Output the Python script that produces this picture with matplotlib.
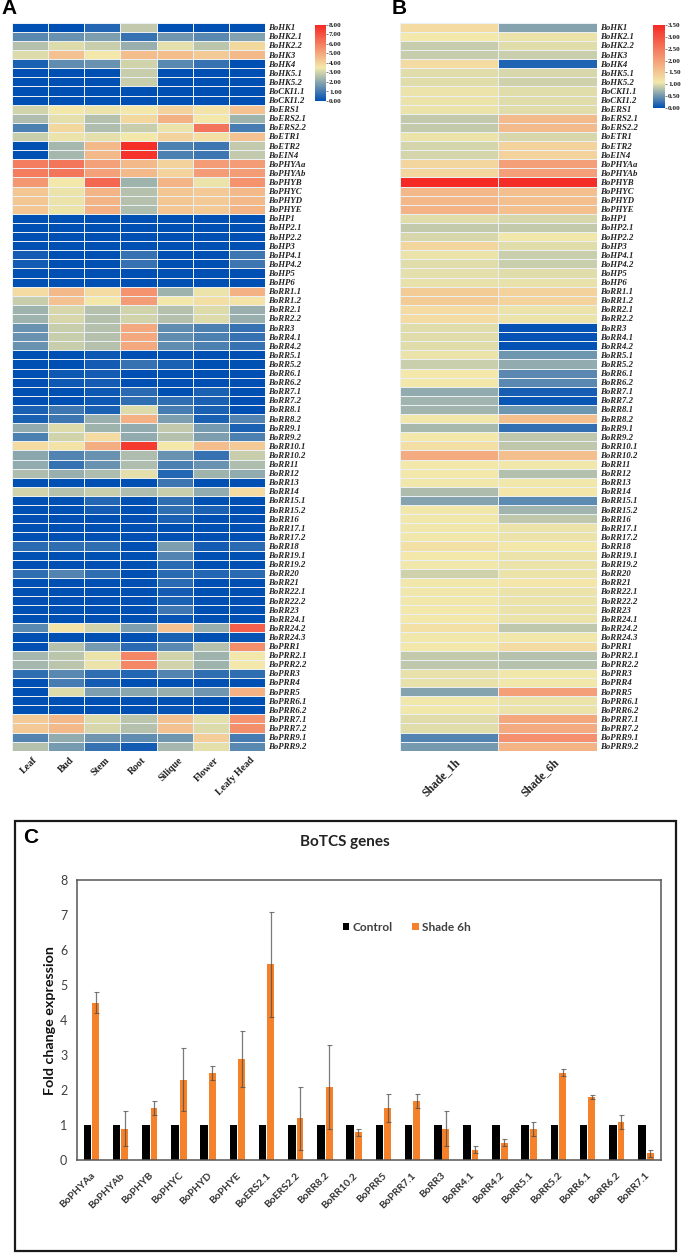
import matplotlib
matplotlib.use("Agg")
import matplotlib.pyplot as plt
import numpy as np
from matplotlib.colors import LinearSegmentedColormap, Normalize
from matplotlib.cm import ScalarMappable
from matplotlib.patches import Rectangle

W, H = 685, 1254

genes = ["HK1","HK2.1","HK2.2","HK3","HK4","HK5.1","HK5.2","CKI1.1","CKI1.2","ERS1",
         "ERS2.1","ERS2.2","ETR1","ETR2","EIN4","PHYAa","PHYAb","PHYB","PHYC","PHYD",
         "PHYE","HP1","HP2.1","HP2.2","HP3","HP4.1","HP4.2","HP5","HP6","RR1.1",
         "RR1.2","RR2.1","RR2.2","RR3","RR4.1","RR4.2","RR5.1","RR5.2","RR6.1","RR6.2",
         "RR7.1","RR7.2","RR8.1","RR8.2","RR9.1","RR9.2","RR10.1","RR10.2","RR11","RR12",
         "RR13","RR14","RR15.1","RR15.2","RR16","RR17.1","RR17.2","RR18","RR19.1","RR19.2",
         "RR20","RR21","RR22.1","RR22.2","RR23","RR24.1","RR24.2","RR24.3","PRR1","PRR2.1",
         "PRR2.2","PRR3","PRR4","PRR5","PRR6.1","PRR6.2","PRR7.1","PRR7.2","PRR9.1","PRR9.2"]

tissues = ["Leaf", "Bud", "Stem", "Root", "Silique", "Flower", "Leafy Head"]
leaf = [0,1.3,2.6,3.2,.4,0,0,0,0,3, 2.5,1.1,2.9,0,0,6,6,5.4,4.3,4.3,
        4.3,0,0,0,0,.3,.3,0,0,3.8, 2.9,2.3,2.3,1.5,1.5,1.5,0,0,0,0,
        0,0,.4,.4,2.1,1.1,3.8,2,2.1,2.5, 0,3,0,0,0,0,0,.6,0,0,
        .7,0,0,0,0,0,1.3,0,0,2.4, 2.4,.7,0,0,0,0,4.2,4.2,1.2,2.6]
bud = [0,1.5,3.2,4.4,1.4,0,0,0,0,3.5, 3.3,3.9,3.4,2.4,2.4,6.2,6.2,3.5,3.4,3.4,
       3.4,0,0,0,0,0,0,0,0,4.6, 4.4,3.1,3.1,2.9,2.9,2.9,0,0,.2,.2,
       0,0,.9,.9,3.2,3,3.6,1.2,.8,2.2, 0,2.6,0,0,0,0,0,.7,0,0,
       1.2,0,0,0,0,0,3.6,0,2.6,2.7, 2.7,1.3,1,3.2,0,0,4.6,4.6,2.1,1.7]
stem = [.5,1.8,2.9,3.5,1.5,0,0,0,0,3.4, 2.6,2.5,3.3,4.6,4.6,5.2,5.2,6.5,4.7,4.7,
        4.8,0,0,0,0,0,0,0,0,3.8, 3.5,2.6,2.6,2.6,2.6,2.6,.2,.3,.3,.3,
        .2,.2,.4,2.2,2.3,3.8,4.9,1.5,1.5,2.5, 0,2.9,.5,.3,0,0,0,.7,0,0,
        .7,0,0,0,0,0,3,0,1.7,3.4, 3.4,.7,.3,1.8,0,0,3.2,3.1,1.6,.8]
root = [2.8,.8,2.2,4.5,3,2.9,2.9,0,0,3.5, 3.9,2.9,3.5,7.9,7.8,4.6,4.6,2.3,2.6,2.6,
        2.5,0,0,0,0,.8,.8,0,0,5.5, 5.3,3,3,5,5,5,0,.8,0,0,
        .6,.7,3.2,4.8,2.1,2.1,7.6,2.5,2.5,3.3, 0,2.5,0,0,0,0,0,0,0,0,
        0,0,0,0,0,0,1.8,0,.6,5.8, 5.8,.5,0,2,0,0,2.7,2.6,1.4,.3]
silique = [0,1.6,3.3,4.5,1.3,0,0,0,0,4, 4.8,3.4,4,1.1,1.1,4,4,4.7,4.3,4.3,
           4.3,0,0,0,0,0,0,0,0,2.3, 3.5,2.6,2.6,1.4,1.4,1.4,0,.4,0,0,
           0,.7,1,1.8,2.8,2.6,3.5,1.5,1.1,.5, .9,2.9,.7,.7,.4,0,0,1.8,1.2,.6,
           .6,.6,.3,.4,.9,.1,4.4,.4,1.3,3, 3,1.2,0,2.2,0,.1,4.4,4.4,1.6,2.4]
flower = [0,1.3,2.7,4.2,.8,0,0,0,0,3.6, 3.5,6.2,3.7,.9,.9,5.3,5.3,3.4,4.2,4.2,
          4.2,0,0,0,0,0,0,0,0,3.4, 3.7,3.2,3.2,1.1,1.1,1.1,0,0,0,0,
          .4,.4,.4,.4,1.7,1.8,4.5,.8,1.5,2.3, 0,2.1,0,.4,0,0,0,.3,0,0,
          .5,0,0,0,0,0,2.2,0,2.6,2.3, 2.3,.7,0,1.6,0,0,3.3,3.2,4.1,3.3]
leafy_head = [0,1.9,3.9,4.6,0,0,0,0,0,4.4, 2.3,1,4.4,2.8,2.8,5.3,5.3,5.5,4.6,4.6,
              4.7,0,0,0,0,.9,.9,0,0,4.8, 3.6,2.2,2.2,.8,.8,.8,0,0,0,0,
              0,0,0,1.2,.4,1.1,4.2,2.9,2.5,2.1, 0,3.8,0,0,0,0,0,.6,0,0,
              .6,0,0,0,0,0,6.7,.1,5.6,3.5, 3.5,.7,0,4.8,0,0,5.5,5.6,1,1.3]

treatments = ["Shade_1h", "Shade_6h"]
shade_1h = [1.25,1.1,.88,.88,1.25,1.0,1.0,1.05,1.05,1.05,
            .87,.87,1.05,.95,.95,1.3,1.3,3.5,1.7,1.7,
            1.75,1.0,.87,.97,1.3,1.05,1.0,1.02,1.03,1.45,
            1.45,1.25,1.25,1.0,1.0,1.0,1.05,.9,1.1,1.1,
            .65,.72,.72,1.08,.75,1.1,1.2,1.85,1.1,1.1,
            1.08,.77,.6,1.08,1.08,1.08,1.08,1.18,1.1,1.08,
            .92,1.08,1.08,1.08,1.1,1.1,1.18,1.08,1.1,.87,
            .85,1.03,1.03,.6,1.07,1.07,1.0,1.0,.38,.52]
shade_6h = [.6,1.05,1.0,.9,.15,.97,.92,1.0,1.0,1.0,
            1.65,1.65,.97,1.35,1.35,2.0,2.0,3.45,1.6,1.6,
            1.6,.97,.87,1.07,1.0,.9,.9,1.0,1.03,1.35,
            1.35,1.05,1.05,.02,.02,.02,.5,.65,.4,.4,
            .1,.05,.5,1.6,.22,.85,.85,1.6,1.07,.8,
            1.07,1.12,.42,.72,.85,1.05,1.05,1.1,1.05,1.05,
            1.05,1.12,1.05,1.05,1.05,1.05,.85,1.08,1.25,.82,
            .82,1.07,1.08,2.0,1.05,1.05,1.9,1.85,2.2,1.75]

qpcr_genes = ["BoPHYAa","BoPHYAb","BoPHYB","BoPHYC","BoPHYD","BoPHYE","BoERS2.1","BoERS2.2",
              "BoRR8.2","BoRR10.2","BoPRR5","BoPRR7.1","BoRR3","BoRR4.1","BoRR4.2","BoRR5.1",
              "BoRR5.2","BoRR6.1","BoRR6.2","BoRR7.1"]
control = [1]*20
shade_qpcr = [4.5,.9,1.5,2.3,2.5,2.9,5.6,1.2,2.1,.8,1.5,1.7,.9,.3,.5,.9,2.5,1.8,1.1,.2]
shade_err = [.3,.5,.2,.9,.2,.8,1.5,.9,1.2,.1,.4,.2,.5,.1,.1,.2,.1,.05,.2,.1]
y_ticks = [0,1,2,3,4,5,6,7,8]

BLUE, YEL, RED = "#0050b4", "#f3e8aa", "#f52a25"
SERIF = "Liberation Serif"
CAL = "Lato"

fig = plt.figure(figsize=(W/100, H/100), dpi=100, facecolor="white")

def axpx(x0, y0, x1, y1):
    return fig.add_axes([x0/W, 1-y1/H, (x1-x0)/W, (y1-y0)/H])

def heat(box, cols, names, vmax, mid, cbox, ticks, lab_dx, name_fs):
    ax = axpx(*box)
    data = np.array(cols, dtype=float).T
    cmap = LinearSegmentedColormap.from_list("c", [(0, BLUE), (mid/vmax, YEL), (1, RED)])
    norm = Normalize(0, vmax)
    ax.pcolormesh(np.arange(data.shape[1]+1), np.arange(data.shape[0]+1), data,
                  cmap=cmap, norm=norm, edgecolors="#e9eff2", linewidth=0.55)
    ax.set_xlim(0, data.shape[1]); ax.set_ylim(data.shape[0], 0)
    for s in ax.spines.values():
        s.set_visible(False)
    ax.set_xticks([]); ax.set_yticks(np.arange(data.shape[0])+.5)
    ax.yaxis.tick_right()
    ax.set_yticklabels(["Bo"+g for g in genes], family=SERIF, style="italic", weight="bold",
                       fontsize=6.3, color="#222222")
    ax.tick_params(axis="y", length=0, pad=2.5)
    for i, n in enumerate(names):
        ax.annotate(n, xy=(i+.5, data.shape[0]), xycoords="data", xytext=(lab_dx, -5),
                    textcoords="offset pixels", rotation=45, ha="right", va="top",
                    rotation_mode="anchor", family=SERIF, weight="bold", fontsize=name_fs,
                    color="#222222")
    cax = axpx(*cbox)
    cb = fig.colorbar(ScalarMappable(norm=norm, cmap=cmap), cax=cax)
    cb.outline.set_visible(False)
    cb.set_ticks(ticks)
    cb.set_ticklabels(["%.2f" % t for t in ticks])
    cax.tick_params(length=1.5, width=.4, pad=1, labelsize=5.2, colors="#222222")
    for t in cax.get_yticklabels():
        t.set_family(SERIF); t.set_weight("bold")

heat((12, 22.7, 265, 750.7), [leaf, bud, stem, root, silique, flower, leafy_head], tissues,
     8, 3.5, (315, 25, 325.5, 101), [0,1,2,3,4,5,6,7,8], 3, 7.2)
heat((400, 22.7, 596.7, 750.7), [shade_1h, shade_6h], treatments,
     3.5, 1.08, (652.5, 25, 664.5, 108), [0,.5,1,1.5,2,2.5,3,3.5], 5, 8.4)

# Panel C
fig.add_artist(Rectangle((14.5/W, 1-1250.5/H), 661.5/W, 430/H, transform=fig.transFigure,
                         fill=False, ec="#1a1a1a", lw=1.6))
ax = axpx(77, 880.3, 660.7, 1160)
x = np.arange(20)
bw = .26
ax.bar(x-.14, control, bw, color="black", label="Control")
ax.bar(x+.14, shade_qpcr, bw*.9, color="#f5822a", label="Shade 6h")
ax.errorbar(x+.14, shade_qpcr, yerr=shade_err, fmt="none", ecolor=(.3,.3,.3,.75),
            elinewidth=.9, capsize=1.8, capthick=.8)
ax.set_xlim(-.5, 19.5); ax.set_ylim(0, 8)
for s in ax.spines.values():
    s.set_color("#555555"); s.set_linewidth(1.1)
ax.set_yticks(y_ticks)
ax.set_yticklabels([str(v) for v in y_ticks], family=CAL, fontsize=9, color="#404040")
ax.tick_params(axis="y", length=0, pad=7)
ax.set_xticks([])
ax.set_ylabel("Fold change expression", family=CAL, weight="bold", fontsize=10.3,
              color="#111111", labelpad=3)
for i, n in enumerate(qpcr_genes):
    ax.annotate(n, xy=(i, 0), xycoords="data", xytext=(-1, -11), textcoords="offset pixels",
                rotation=45, ha="right", va="top", rotation_mode="anchor", family=CAL,
                weight="bold", fontsize=7.4, color="#333333")
leg = ax.legend(ncol=2, frameon=False, loc="upper left", bbox_to_anchor=(.447, .868),
                borderaxespad=0, handlelength=.55, handleheight=.55, handletextpad=.3,
                columnspacing=1.6, prop={"family": CAL, "weight": "bold", "size": 8.6},
                labelcolor="#404040")
fig.text(345/W, 1-842/H, "BoTCS genes", family=CAL, weight="bold", fontsize=11,
         ha="center", va="center", color="#222222")

# Panel letters
for s, px, py, fs in [("A", 1, 8, 15), ("B", 392, 8, 15), ("C", 23, 837.5, 15)]:
    fig.text(px/W, 1-py/H, s, family="Liberation Sans", weight="bold", fontsize=fs,
             ha="left", va="center", color="black")

fig.savefig("out.png", dpi=100)
